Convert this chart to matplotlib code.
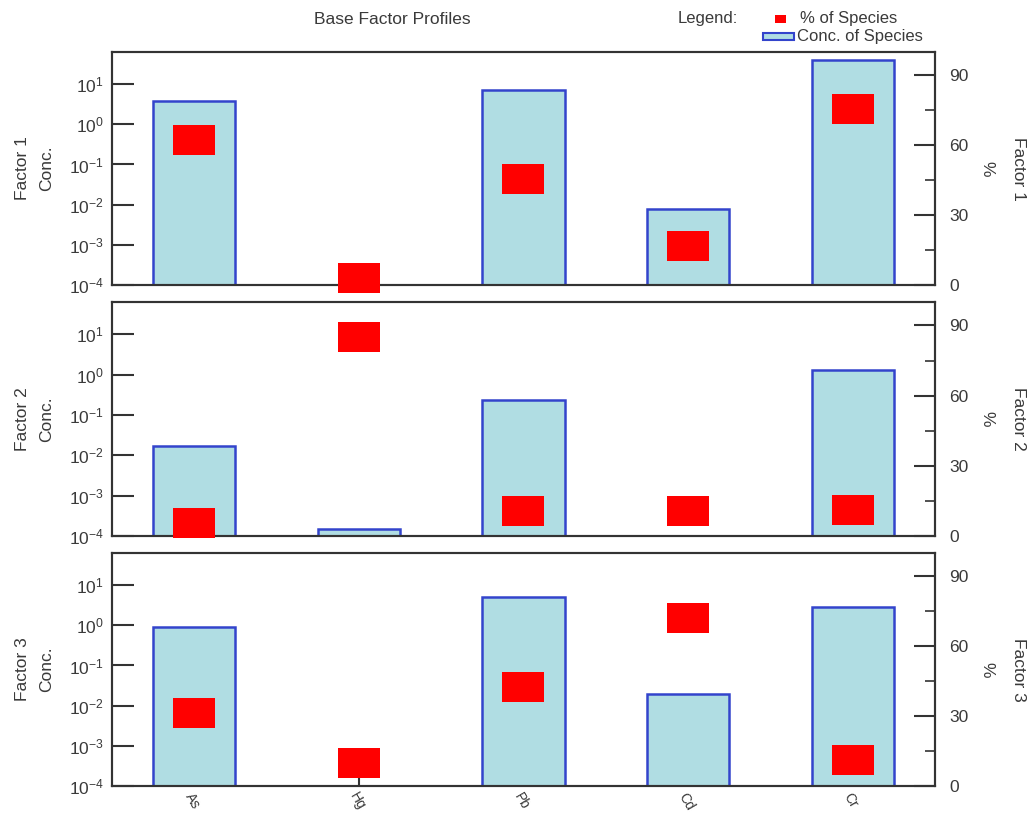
import numpy as np
import matplotlib
matplotlib.use("Agg")
import matplotlib.pyplot as plt
from matplotlib.path import Path
from matplotlib.ticker import FixedLocator, NullLocator, MultipleLocator

plt.rcParams['font.family'] = ['Liberation Sans', 'DejaVu Sans']

species = ["As", "Hg", "Pb", "Cd", "Cr"]
factors = ["Factor 1", "Factor 2", "Factor 3"]

conc_f1 = [3.7, np.nan, 7.3, 0.0077, 39.0]
conc_f2 = [0.017, 1.5e-4, 0.23, np.nan, 1.3]
conc_f3 = [0.91, np.nan, 5.0, 0.019, 2.9]

pct_f1 = [62.3, 3.0, 45.4, 16.8, 75.5]
pct_f2 = [5.5, 85.0, 10.5, 10.5, 11.3]
pct_f3 = [31.5, 9.9, 42.7, 72.0, 11.1]

conc_all = [conc_f1, conc_f2, conc_f3]
pct_all = [pct_f1, pct_f2, pct_f3]

W, H = 1032, 814
fig = plt.figure(figsize=(W / 100, H / 100), dpi=100)

txt = '#3a3a3a'
spine_c = '#333333'
bar_face = '#b0dde3'
bar_edge = '#3344cc'
red = '#ff0000'

# rectangular marker (wider than tall)
rect = Path([(-0.5, -0.37), (0.5, -0.37), (0.5, 0.37), (-0.5, 0.37), (-0.5, -0.37)],
            [Path.MOVETO, Path.LINETO, Path.LINETO, Path.LINETO, Path.CLOSEPOLY])

panels = [(52, 285), (302, 536), (553, 786)]
left_px, right_px = 112, 935
x = np.arange(len(species))

for i, (top, bot) in enumerate(panels):
    ax = fig.add_axes([left_px / W, 1 - bot / H, (right_px - left_px) / W, (bot - top) / H])
    ax.bar(x, conc_all[i], width=0.5, color=bar_face, edgecolor=bar_edge, linewidth=1.8, log=True, zorder=2)
    ax.set_yscale('log')
    ax.set_ylim(1e-4, 63)
    ax.set_xlim(-0.5, 4.5)
    ax.yaxis.set_major_locator(FixedLocator([1e-4, 1e-3, 1e-2, 1e-1, 1, 10]))
    ax.yaxis.set_minor_locator(NullLocator())
    ax.tick_params(axis='y', direction='in', length=16, width=1.5, color=spine_c,
                   labelsize=12.5, labelcolor=txt, pad=6)
    for s in ax.spines.values():
        s.set_color(spine_c)
        s.set_linewidth(1.5)

    if i < 2:
        ax.set_xticks([])
    else:
        ax.set_xticks(x)
        ax.set_xticklabels(species, rotation=-60, ha='left', va='top', rotation_mode='anchor')
        ax.tick_params(axis='x', which='major', direction='in', length=15, width=1.5,
                       color=spine_c, labelsize=10, labelcolor=txt, pad=3)
        ax.set_xticks(x, minor=True)
        ax.tick_params(axis='x', which='minor', direction='out', length=7, width=1.5,
                       color=spine_c, labelbottom=False)

    ax2 = ax.twinx()
    ax2.set_ylim(0, 100)
    ax2.plot(x, pct_all[i], linestyle='none', marker=rect, markersize=30,
             color=red, markeredgewidth=0, clip_on=False, zorder=5)
    ax2.set_xlim(-0.5, 4.5)
    ax2.yaxis.set_major_locator(FixedLocator([0, 30, 60, 90]))
    ax2.yaxis.set_minor_locator(MultipleLocator(15))
    ax2.tick_params(axis='y', which='major', direction='in', length=15, width=1.5,
                    color=spine_c, labelsize=12.5, labelcolor=txt, pad=10)
    ax2.tick_params(axis='y', which='minor', direction='in', length=7, width=1.2, color=spine_c)
    for s in ax2.spines.values():
        s.set_color(spine_c)
        s.set_linewidth(1.5)

    yc = 1 - (top + bot) / 2 / H
    fig.text(22.5 / W, yc, factors[i], rotation=90, ha='center', va='center',
             fontsize=12.5, color=txt)
    fig.text(46.5 / W, yc, "Conc.", rotation=90, ha='center', va='center',
             fontsize=12.5, color=txt)
    fig.text(1019 / W, yc, factors[i], rotation=270, ha='center', va='center',
             fontsize=12.5, color=txt)
    fig.text(987 / W, yc, "%", rotation=270, ha='center', va='center',
             fontsize=12.5, color=txt)

# title and legend
fig.text(392 / W, 1 - 19 / H, "Base Factor Profiles", ha='center', va='center',
         fontsize=12.5, color=txt)
fig.text(678 / W, 1 - 19 / H, "Legend:", ha='left', va='center', fontsize=12, color=txt)
fig.patches.append(matplotlib.patches.Rectangle((775 / W, 1 - 23 / H), 11 / W, 8 / H,
                                                transform=fig.transFigure, facecolor=red,
                                                edgecolor='none'))
fig.text(800 / W, 1 - 18 / H, "% of Species", ha='left', va='center', fontsize=12, color=txt)
fig.patches.append(matplotlib.patches.Rectangle((763 / W, 1 - 40 / H), 31 / W, 7 / H,
                                                transform=fig.transFigure, facecolor=bar_face,
                                                edgecolor=bar_edge, linewidth=1.5))
fig.text(797 / W, 1 - 36 / H, "Conc. of Species", ha='left', va='center', fontsize=12, color=txt)

fig.savefig("out.png", dpi=100)
